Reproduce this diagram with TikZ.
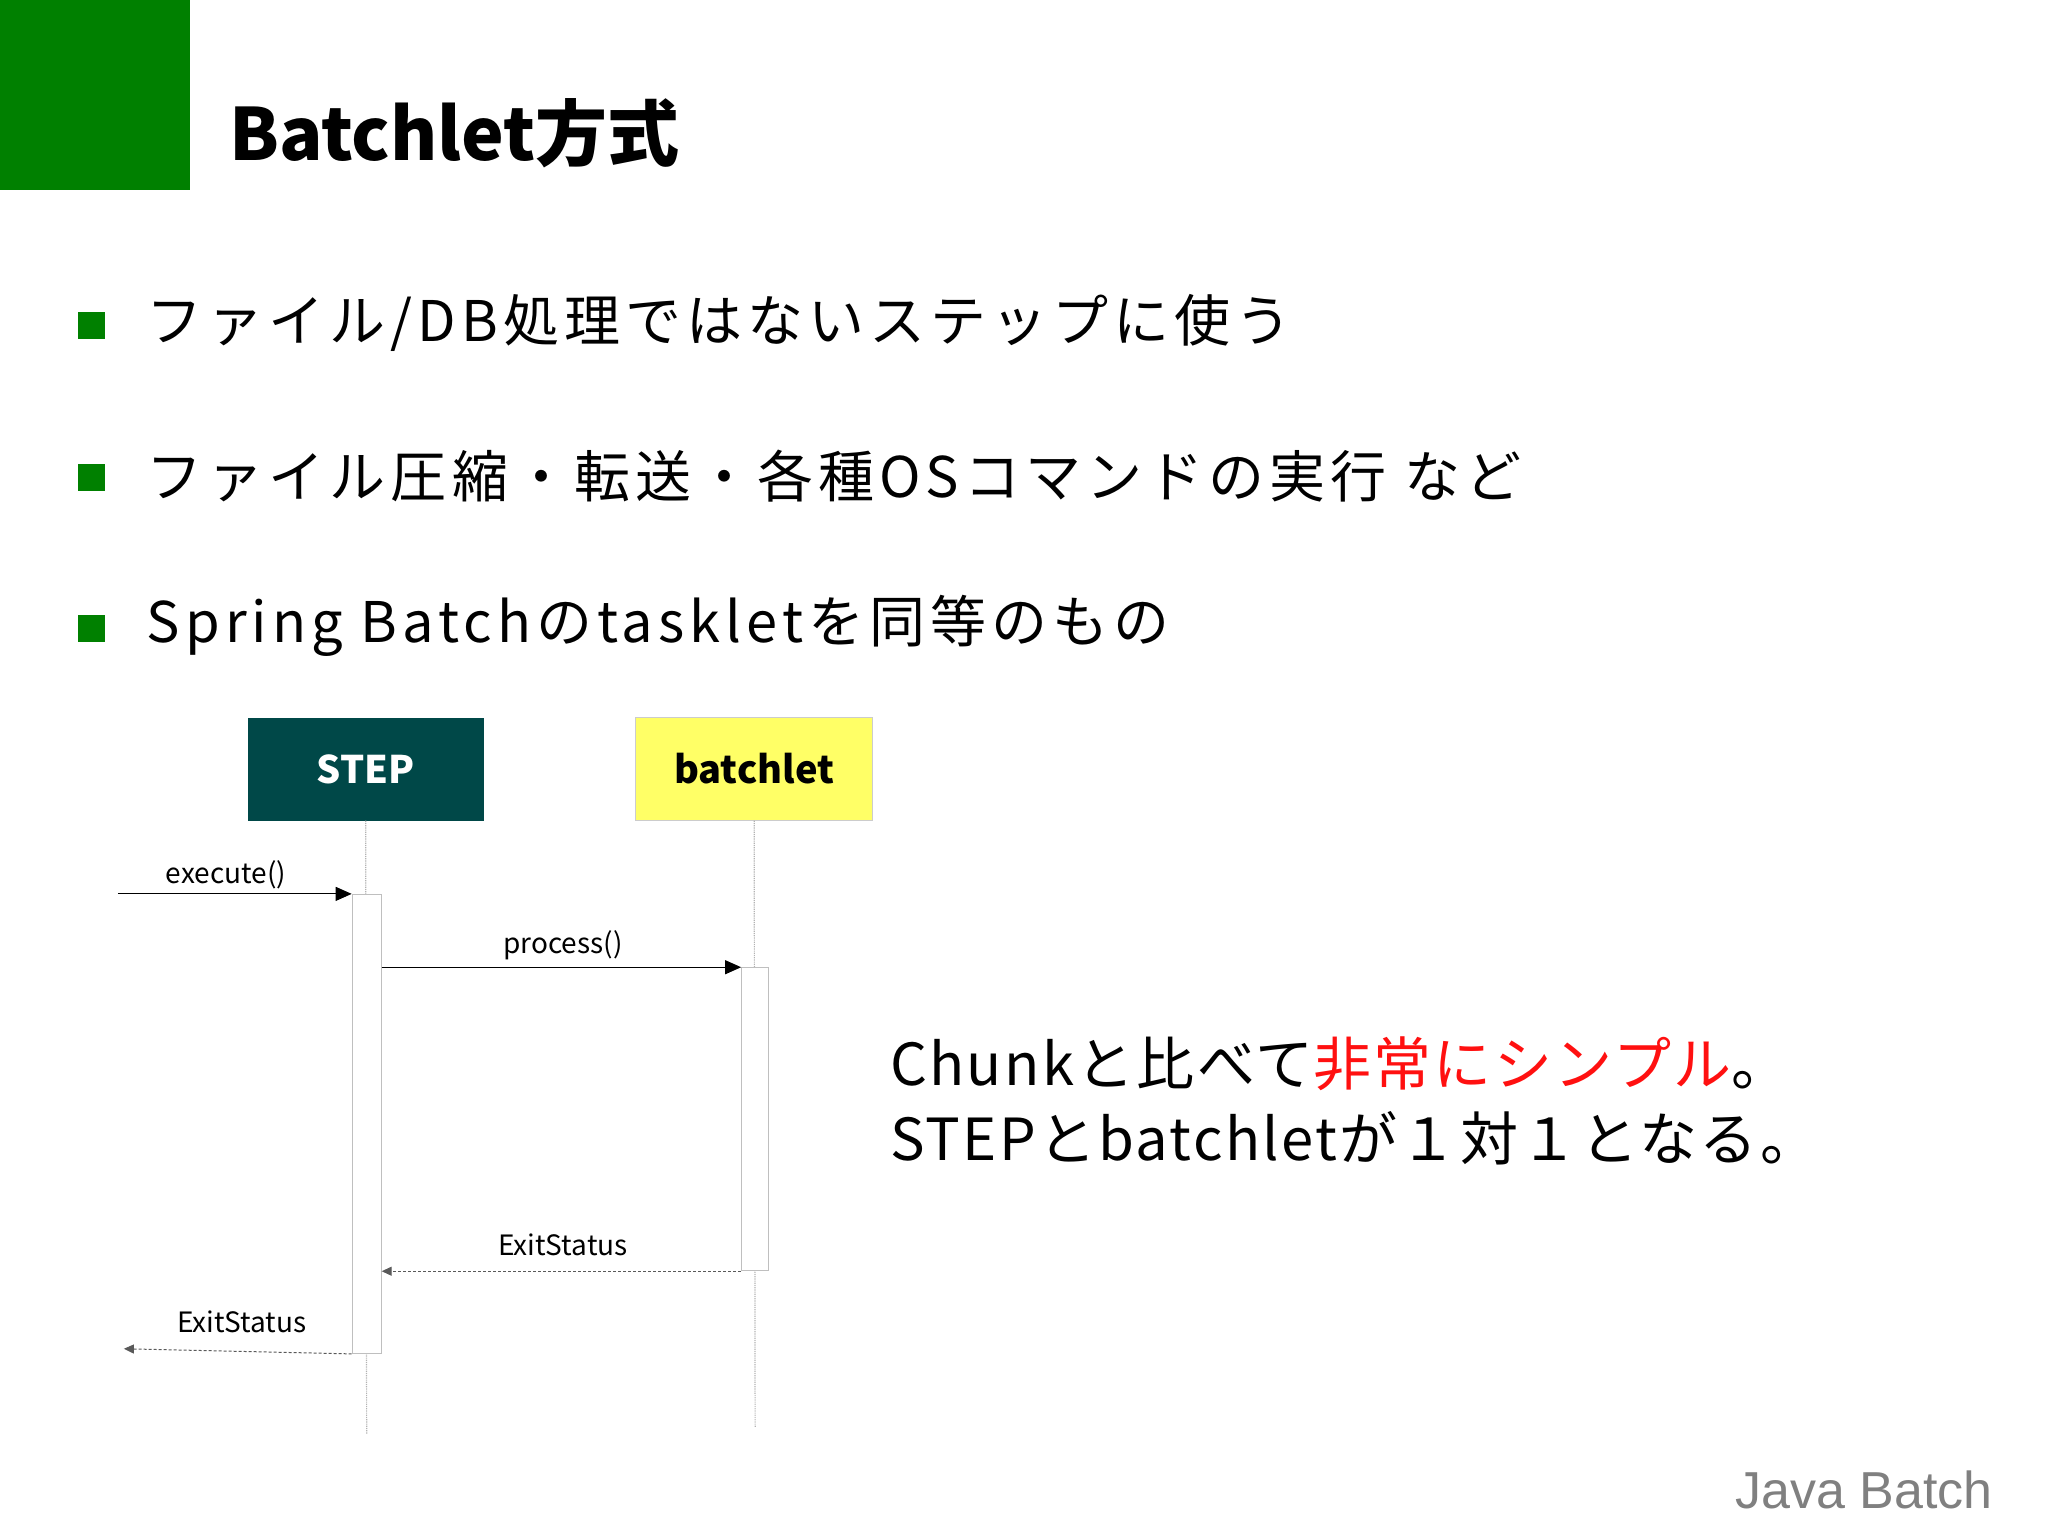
\documentclass[tikz,border=0pt]{standalone}
\usepackage{fontspec}
\setmainfont{Noto Sans CJK JP}
\newfontfamily\jv{Liberation Sans}
\newfontfamily\spj[LetterSpace=9]{Noto Sans CJK JP}
\newfontfamily\spr[LetterSpace=4]{Noto Sans CJK JP}
\usetikzlibrary{arrows.meta}
\definecolor{sgreen}{HTML}{008000}
\definecolor{steal}{HTML}{004848}
\definecolor{syel}{HTML}{FFFF66}
\definecolor{sred}{HTML}{FF1010}
\tikzset{
 bul/.style={fill=sgreen,minimum size=27pt,inner sep=0},
 btxt/.style={anchor=west,font=\spj\fontsize{56}{60}\selectfont,inner sep=0},
 life/.style={draw=gray!60,densely dotted,line width=1.2pt},
 act/.style={draw=gray!50,fill=white,line width=1pt},
 msg/.style={-{Triangle[length=16pt,width=14pt]},line width=1pt},
 ret/.style={-{Triangle[length=10pt,width=9pt]},densely dashed,line width=1pt,draw=gray!70!black},
 mlab/.style={font=\fontsize{28}{30}\selectfont,inner sep=0}
}
\begin{document}
\begin{tikzpicture}[x=0.991pt,y=-0.991pt]
\useasboundingbox (0,0) rectangle (2066.6,1549);
\fill[sgreen] (0,0) rectangle (192,192);
\node[anchor=west,font=\fontsize{72}{76}\selectfont\bfseries,inner sep=0] (title) at (231,134) {Batchlet方式};
\node[bul] (b1) at (92,328) {};
\node[btxt] (t1) at (148,326) {ファイル/DB処理ではないステップに使う};
\node[bul] (b2) at (92,482) {};
\node[btxt] (t2) at (148,480) {ファイル圧縮・転送・各種OSコマンドの実行 など};
\node[bul] (b3) at (92,634) {};
\node[btxt] (t3) at (148,632) {Spring Batchのtaskletを同等のもの};
% lifelines
\node[fill=steal,minimum width=236pt,minimum height=103pt,text=white,font=\fontsize{38}{40}\selectfont\bfseries] (step) at (369,776) {STEP};
\node[fill=syel,draw=gray!40,minimum width=237pt,minimum height=103pt,font=\fontsize{38}{40}\selectfont\bfseries] (bl) at (761,776) {batchlet};
\coordinate (se) at (370,1447);
\coordinate (be) at (762,1440);
\draw[life] (step.south) -- (se);
\draw[life] (bl.south) -- (be);
\node[act,minimum width=29pt,minimum height=459pt,inner sep=0,anchor=north] (a1) at (370,902) {};
\node[act,minimum width=27pt,minimum height=303pt,inner sep=0,anchor=north] (a2) at (762,976) {};
\coordinate (s0) at (119,902);
\coordinate (s9) at (125,1361);
\draw[msg] (s0) -- (a1.north west);
\node[mlab] (l1) at (228,883) {execute()};
\draw[msg] (a1.east |- a2.north) -- (a2.north west);
\node[mlab] (l2) at (568,954) {process()};
\draw[ret] (a2.south west) -- (a1.east |- a2.south);
\node[mlab] (l3) at (568,1256) {ExitStatus};
\draw[ret] (a1.south west) -- (s9);
\node[mlab] (l4) at (244,1334) {ExitStatus};
\node[anchor=west,font=\spr\fontsize{58}{60}\selectfont,inner sep=0] (r1) at (898,1073) {Chunkと比べて\textcolor{sred}{非常にシンプル}。};
\node[anchor=west,font=\spr\fontsize{58}{60}\selectfont,inner sep=0] (r2) at (898,1149) {STEPとbatchletが１対１となる。};
\node[anchor=east,font=\jv\fontsize{52}{56}\selectfont,text=gray,inner sep=0] (jb) at (2011,1503) {Java Batch};
\end{tikzpicture}
\end{document}
